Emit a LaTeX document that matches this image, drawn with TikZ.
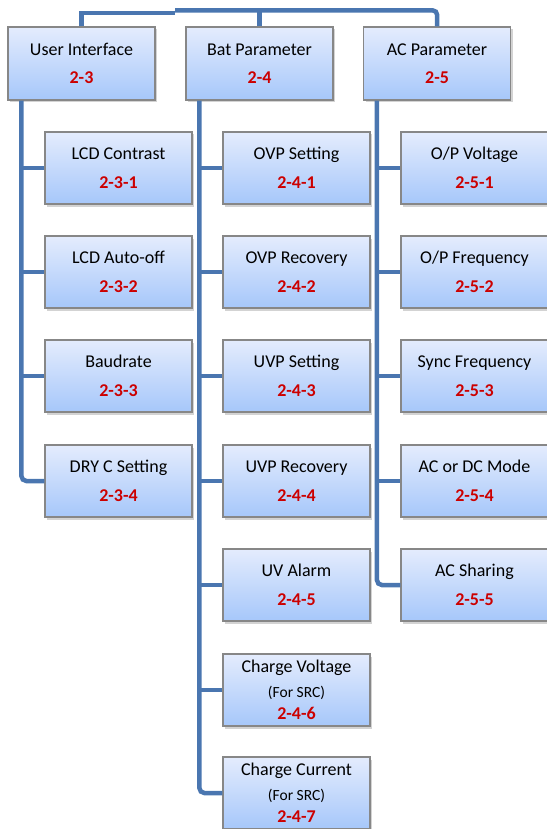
\documentclass[tikz,border=0pt]{standalone}
\usepackage{fontspec}
\setmainfont{Carlito}
\usepackage{xcolor}
\definecolor{linkblue}{RGB}{74,118,176}
\definecolor{boxtop}{RGB}{228,236,253}
\definecolor{boxbot}{RGB}{166,199,250}
\definecolor{boxedge}{RGB}{135,135,135}
\definecolor{codered}{RGB}{204,0,0}
\usetikzlibrary{shadows,calc}
\newcommand{\code}[1]{\textcolor{codered}{\bfseries #1}}

\begin{document}
\begin{tikzpicture}[x=1pt,y=-1pt,
  box/.style={draw=boxedge,line width=1.2pt,top color=boxtop,bottom color=boxbot,minimum width=147pt,minimum height=72pt,inner sep=0pt,align=center,font=\fontsize{18}{28.5}\selectfont,drop shadow={shadow xshift=2pt,shadow yshift=-2.5pt,opacity=0.35}},
  link/.style={draw=linkblue,line width=4.5pt}]
  \useasboundingbox (0,0) rectangle (546,829);
  % top level
  \node[box,minimum height=73pt] (ui) at (81.5,63.5) {User Interface\\\code{2-3}};
  \node[box,minimum height=73pt] (bat) at (259.5,63.5) {Bat Parameter\\\code{2-4}};
  \node[box,minimum height=73pt] (ac) at (437,63.5) {AC Parameter\\\code{2-5}};
  % user interface
  \node[box] (u1) at (118.5,168) {LCD Contrast\\\code{2-3-1}};
  \node[box] (u2) at (118.5,272) {LCD Auto-off\\\code{2-3-2}};
  \node[box] (u3) at (118.5,376) {Baudrate\\\code{2-3-3}};
  \node[box] (u4) at (118.5,481) {DRY C Setting\\\code{2-3-4}};
  % bat parameter
  \node[box] (b1) at (296.5,168) {OVP Setting\\\code{2-4-1}};
  \node[box] (b2) at (296.5,272) {OVP Recovery\\\code{2-4-2}};
  \node[box] (b3) at (296.5,376) {UVP Setting\\\code{2-4-3}};
  \node[box] (b4) at (296.5,481) {UVP Recovery\\\code{2-4-4}};
  \node[box] (b5) at (296.5,585) {UV Alarm\\\code{2-4-5}};
  \node[box] (b6) at (296.5,690) {Charge Voltage\\[-4pt]{\fontsize{15.5}{20}\selectfont(For SRC)}\\[-6pt]\code{2-4-6}};
  \node[box] (b7) at (296.5,793) {Charge Current\\[-4pt]{\fontsize{15.5}{20}\selectfont(For SRC)}\\[-6pt]\code{2-4-7}};
  % ac parameter
  \node[box] (a1) at (474.5,168) {O/P Voltage\\\code{2-5-1}};
  \node[box] (a2) at (474.5,272) {O/P Frequency\\\code{2-5-2}};
  \node[box] (a3) at (474.5,376) {Sync Frequency\\\code{2-5-3}};
  \node[box] (a4) at (474.5,481) {AC or DC Mode\\\code{2-5-4}};
  \node[box] (a5) at (474.5,585) {AC Sharing\\\code{2-5-5}};
  % top bar
  \coordinate (barl) at (175,13);
  \coordinate (barr) at (175,10.5);
  \draw[link] (ui.north) |- (barl);
  \draw[link,rounded corners=4pt] (barr) -| (ac.north);
  \draw[link] (bat.north) -- (bat.north |- barr);
  % trunks
  \coordinate (uitrunk) at ($(ui.south west)+(14,0)$);
  \coordinate (battrunk) at ($(bat.south west)+(14,0)$);
  \coordinate (actrunk) at ($(ac.south west)+(14,0)$);
  \draw[link,rounded corners=5pt] (uitrunk) |- (u4.west);
  \draw[link,rounded corners=5pt] (battrunk) |- (b7.west);
  \draw[link,rounded corners=5pt] (actrunk) |- (a5.west);
  \foreach \n in {u1,u2,u3} \draw[link] (uitrunk |- \n.west) -- (\n.west);
  \foreach \n in {b1,b2,b3,b4,b5,b6} \draw[link] (battrunk |- \n.west) -- (\n.west);
  \foreach \n in {a1,a2,a3,a4} \draw[link] (actrunk |- \n.west) -- (\n.west);
\end{tikzpicture}
\end{document}
